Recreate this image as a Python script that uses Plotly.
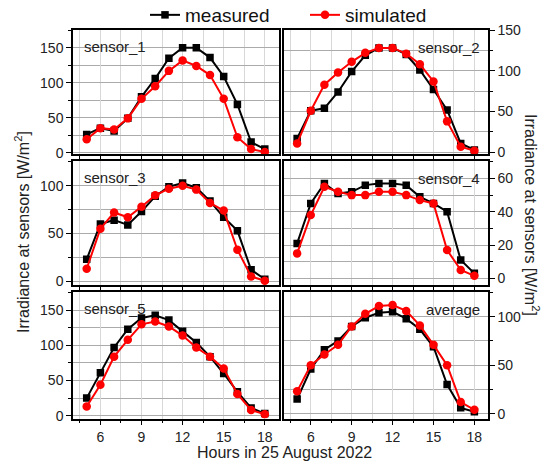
import plotly.graph_objects as go

hours = [5, 6, 7, 8, 9, 10, 11, 12, 13, 14, 15, 16, 17, 18]

s1_meas = [26, 35, 31, 49, 80, 106, 135, 150, 150, 136, 109, 69, 15, 5]
s1_sim = [19, 35, 33, 49, 77, 95, 117, 132, 124, 111, 77, 22, 5, 1]

s2_meas = [17, 51, 54, 74, 99, 119, 128, 128, 120, 101, 77, 52, 11, 3]
s2_sim = [11, 51, 83, 98, 111, 122, 128, 128, 121, 108, 87, 38, 7, 2]

s3_meas = [23, 60, 64, 59, 73, 89, 99, 103, 98, 84, 67, 53, 12, 2]
s3_sim = [13, 55, 72, 67, 78, 90, 97, 100, 96, 82, 74, 33, 5, 0.5]

s4_meas = [21, 45, 57, 51, 52, 56, 57, 57, 56, 49, 45, 40, 11, 3]
s4_sim = [15, 38, 55, 52, 50, 50, 52, 52, 50, 47, 45, 17, 5, 1.5]

s5_meas = [25, 61, 97, 123, 139, 143, 136, 120, 104, 84, 60, 34, 11, 3]
s5_sim = [13, 44, 84, 108, 130, 134, 127, 114, 97, 84, 67, 31, 8, 2]

avg_meas = [15, 46, 66, 75, 90, 99, 104, 105, 98, 87, 69, 30, 6, 2]
avg_sim = [23, 50, 61, 71, 90, 103, 111, 112, 106, 91, 71, 50, 12, 4]

panel_names = ["sensor_1", "sensor_2", "sensor_3", "sensor_4", "sensor_5", "average"]
y_ranges = [[-2, 175.5], [-2, 150], [-4, 126], [-4, 70.5], [-4, 176], [-5, 125.5]]
y_dticks = [50, 50, 50, 20, 50, 50]
x_ticks = [6, 9, 12, 15, 18]

series = [(s1_meas, s1_sim), (s2_meas, s2_sim), (s3_meas, s3_sim),
          (s4_meas, s4_sim), (s5_meas, s5_sim), (avg_meas, avg_sim)]

W, H = 545, 463
FONT = "Arial, Liberation Sans, sans-serif"

# panel pixel boxes (left, right, top, bottom)
cols = [(73, 278.5), (283.5, 488)]
rows = [(30, 154), (161, 285), (292, 418.5)]

fig = go.Figure()
layout = {}
annotations = []
for i in range(6):
    r, c = divmod(i, 2)
    xl, xr = cols[c]
    yt, yb = rows[r]
    sfx = "" if i == 0 else str(i + 1)
    xa, ya = "x" + sfx, "y" + sfx
    meas, sim = series[i]
    fig.add_trace(go.Scatter(
        x=hours, y=meas, xaxis=xa, yaxis=ya, mode="lines+markers",
        name="measured", showlegend=(i == 0), legendrank=1,
        line=dict(color="black", width=2),
        marker=dict(symbol="square", size=7.5, color="black")))
    fig.add_trace(go.Scatter(
        x=hours, y=sim, xaxis=xa, yaxis=ya, mode="lines+markers",
        name="simulated", showlegend=(i == 0), legendrank=2,
        line=dict(color="#ff0000", width=2),
        marker=dict(symbol="circle", size=8.5, color="#ff0000")))
    layout["xaxis" + sfx] = dict(
        domain=[xl / W, xr / W], anchor=ya, range=[4, 19],
        tickmode="array", tickvals=x_ticks,
        showticklabels=(r == 2), ticks="outside", ticklen=5, tickwidth=1,
        tickcolor="black", showline=True, linecolor="black", linewidth=1.5,
        mirror=True, showgrid=True, gridcolor="#d8d8d8", gridwidth=1,
        zeroline=False, tickfont=dict(size=14, color="#222"),
        minor=dict(tickmode="linear", tick0=4.5, dtick=3, ticks="outside",
                   ticklen=3, tickcolor="black", showgrid=True,
                   gridcolor="#d8d8d8", gridwidth=1),
    )
    layout["yaxis" + sfx] = dict(
        domain=[1 - yb / H, 1 - yt / H], anchor=xa, range=y_ranges[i],
        side="left" if c == 0 else "right",
        tick0=0, dtick=y_dticks[i], ticks="outside", ticklen=5, tickwidth=1,
        tickcolor="black", showline=True, linecolor="black", linewidth=1.5,
        mirror=True, showgrid=True, gridcolor="#ababab", gridwidth=1,
        zeroline=False, tickfont=dict(size=14, color="#222"),
        minor=dict(dtick=y_dticks[i] / 2, ticks="outside", ticklen=3,
                   tickcolor="black", showgrid=True, gridcolor="#ababab",
                   gridwidth=1),
    )
    if c == 0:
        annotations.append(dict(
            text=panel_names[i], xref="paper", yref="paper",
            x=(xl + 9) / W, y=1 - (yt + 16.5) / H, xanchor="left",
            yanchor="middle", showarrow=False,
            font=dict(size=15, color="#222", family=FONT)))
    else:
        annotations.append(dict(
            text=panel_names[i], xref="paper", yref="paper",
            x=(xr - 6) / W, y=1 - (yt + 17) / H, xanchor="right",
            yanchor="middle", showarrow=False,
            font=dict(size=15, color="#222", family=FONT)))

ytitle = "Irradiance at sensors [W/m<sup>2</sup>]"
annotations.append(dict(text=ytitle, xref="paper", yref="paper",
                        x=22 / W, y=1 - 232 / H, textangle=-90,
                        showarrow=False, xanchor="center", yanchor="middle",
                        font=dict(size=16, color="#222", family=FONT)))
annotations.append(dict(text=ytitle, xref="paper", yref="paper",
                        x=532 / W, y=1 - 215 / H, textangle=90,
                        showarrow=False, xanchor="center", yanchor="middle",
                        font=dict(size=16, color="#222", family=FONT)))
annotations.append(dict(text="Hours in 25 August 2022", xref="paper",
                        yref="paper", x=284 / W, y=1 - 452 / H,
                        showarrow=False, xanchor="center", yanchor="middle",
                        font=dict(size=16, color="#222", family=FONT)))

fig.update_layout(
    width=W, height=H,
    margin=dict(l=0, r=0, t=0, b=0, pad=0, autoexpand=False),
    paper_bgcolor="white", plot_bgcolor="white",
    font=dict(family=FONT, color="#222"),
    showlegend=True,
    legend=dict(orientation="h", x=145 / W, y=1 - 15 / H,
                xanchor="left", yanchor="middle",
                font=dict(size=19, color="#111", family=FONT),
                bgcolor="rgba(0,0,0,0)", itemwidth=30,
                entrywidth=115, entrywidthmode="pixels"),
    annotations=annotations,
    **layout,
)

fig.write_html("out.html")
